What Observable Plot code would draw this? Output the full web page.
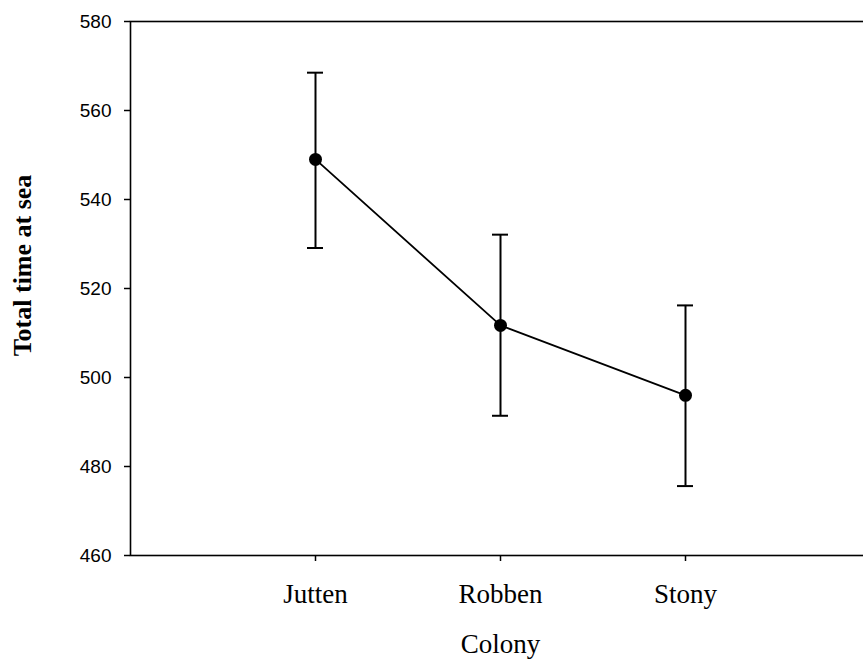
<!DOCTYPE html>
<html>
<head>
<meta charset="utf-8">
<script src="https://cdn.jsdelivr.net/npm/d3@7"></script>
<script src="https://cdn.jsdelivr.net/npm/@observablehq/plot@0.6"></script>
<style>
  html, body { margin: 0; padding: 0; background: #fff; overflow: hidden; width: 863px; height: 663px; }
  #chart svg { max-width: none !important; display: block; }
</style>
</head>
<body>
<div id="chart"></div>
<script>
// Mean total time at sea per colony, with error bar limits
const colonies = ["Jutten", "Robben", "Stony"];
const meanTime = [549.0, 511.7, 496.0];
const upperBar = [568.5, 532.1, 516.2];
const lowerBar = [529.1, 491.4, 475.6];
const yTicks = [460, 480, 500, 520, 540, 560, 580];

const rows = colonies.map((c, i) => ({colony: c, mean: meanTime[i], hi: upperBar[i], lo: lowerBar[i]}));

const serif = "'Liberation Serif', 'Times New Roman', Times, serif";
const sans = "'Liberation Sans', Arial, Helvetica, sans-serif";

const chart = Plot.plot({
  width: 870,
  height: 663,
  marginLeft: 130,
  marginRight: 0,
  marginTop: 21,
  marginBottom: 108,
  style: {background: "#fff", color: "#000", maxWidth: "none"},
  x: {type: "point", domain: colonies, padding: 1},
  y: {domain: [460, 580]},
  marks: [
    Plot.frame({stroke: "#000", strokeWidth: 1.6}),
    Plot.axisY({ticks: yTicks, tickSize: 6, tickPadding: 13, tickFormat: d => String(d),
      fontSize: 19, fontFamily: sans, strokeWidth: 1.5, label: null}),
    Plot.axisX({tickSize: 6, tickPadding: 22, fontSize: 27, fontFamily: serif,
      strokeWidth: 1.5, label: null}),
    // error bars with caps
    Plot.ruleX(rows, {x: "colony", y1: "lo", y2: "hi", stroke: "#000", strokeWidth: 2}),
    Plot.ruleY(rows, {y: "hi", x1: "colony", x2: "colony", insetLeft: -8, insetRight: -8, stroke: "#000", strokeWidth: 2}),
    Plot.ruleY(rows, {y: "lo", x1: "colony", x2: "colony", insetLeft: -8, insetRight: -8, stroke: "#000", strokeWidth: 2}),
    // means
    Plot.line(rows, {x: "colony", y: "mean", stroke: "#000", strokeWidth: 1.8}),
    Plot.dot(rows, {x: "colony", y: "mean", r: 6.5, fill: "#000", stroke: "none"}),
    // axis titles
    Plot.text(["Colony"], {frameAnchor: "bottom", dy: 97, fontSize: 27, fontFamily: serif, fill: "#000"}),
    Plot.text(["Total time at sea"], {frameAnchor: "left", textAnchor: "middle", dx: -108, dy: -23, rotate: -90,
      fontSize: 26, fontWeight: "bold", fontFamily: serif, fill: "#000"})
  ]
});

document.getElementById("chart").append(chart);
</script>
</body>
</html>
